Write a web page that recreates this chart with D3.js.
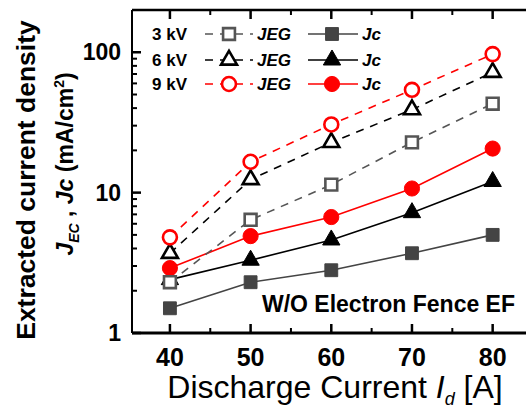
<!DOCTYPE html>
<html>
<head>
<meta charset="utf-8">
<script src="https://cdn.jsdelivr.net/npm/d3@7"></script>
<style>
  html, body { margin: 0; padding: 0; background: #fff; }
  svg { display: block; font-family: "Liberation Sans", Arial, sans-serif; }
</style>
</head>
<body>
<div id="chart"></div>
<script>
// Discharge current vs extracted current density (log scale)
const currents = [40, 50, 60, 70, 80];
const xTicks = [40, 50, 60, 70, 80];
const yTicks = [1, 10, 100];

const jeg3 = [2.3, 6.4, 11.4, 22.8, 43];
const jeg6 = [3.7, 12.4, 22.8, 39, 72];
const jeg9 = [4.8, 16.6, 30.6, 54, 97];
const jc3 = [1.5, 2.3, 2.8, 3.7, 5.0];
const jc6 = [2.4, 3.3, 4.6, 7.2, 12];
const jc9 = [2.9, 4.9, 6.7, 10.7, 20.6];

const series = [
  { name: '3 kV', values: jc3, kind: 'jc', color: '#444', shape: 'square' },
  { name: '6 kV', values: jc6, kind: 'jc', color: '#000', shape: 'triangle' },
  { name: '9 kV', values: jc9, kind: 'jc', color: '#f00', shape: 'circle' },
  { name: '3 kV', values: jeg3, kind: 'jeg', color: '#555', shape: 'square' },
  { name: '6 kV', values: jeg6, kind: 'jeg', color: '#000', shape: 'triangle' },
  { name: '9 kV', values: jeg9, kind: 'jeg', color: '#f00', shape: 'circle' }
];

const width = 526, height = 410;
const svg = d3.select('#chart').append('svg')
  .attr('width', width).attr('height', height);

const x = d3.scaleLinear().domain([35.3, 85]).range([132, 533]);
const y = d3.scaleLog().domain([1, 200]).range([333, 10]);

const symType = { square: d3.symbolSquare, triangle: d3.symbolTriangle, circle: d3.symbolCircle };
const symSize = { square: 165, triangle: 130, circle: 180 };

function marker(g, s, cx, cy) {
  const open = s.kind === 'jeg';
  g.append('path')
    .attr('d', d3.symbol().type(symType[s.shape]).size(open ? symSize[s.shape] * 0.85 : symSize[s.shape])())
    .attr('transform', `translate(${cx},${cy})`)
    .attr('fill', open ? '#fff' : s.color)
    .attr('stroke', s.color)
    .attr('stroke-width', open ? 2.6 : 1);
}

// lines
const line = d3.line().x((d, i) => x(currents[i])).y(d => y(d));
series.forEach(s => {
  svg.append('path')
    .datum(s.values)
    .attr('d', line)
    .attr('fill', 'none')
    .attr('stroke', s.color)
    .attr('stroke-width', 1.6)
    .attr('stroke-dasharray', s.kind === 'jeg' ? '8,7' : null);
});
// markers
series.forEach(s => {
  const g = svg.append('g');
  s.values.forEach((v, i) => marker(g, s, x(currents[i]), y(v)));
});

// axes frame
const x0 = x.range()[0], y0 = y.range()[0], yTop = y.range()[1];
svg.append('line').attr('x1', x0).attr('x2', width + 5).attr('y1', y0).attr('y2', y0)
  .attr('stroke', '#000').attr('stroke-width', 3);
svg.append('line').attr('x1', x0).attr('x2', width + 5).attr('y1', yTop).attr('y2', yTop)
  .attr('stroke', '#000').attr('stroke-width', 2.5);
svg.append('line').attr('x1', x0).attr('x2', x0).attr('y1', yTop).attr('y2', y0)
  .attr('stroke', '#000').attr('stroke-width', 2);

// x ticks (inward, top and bottom)
const xMinor = [45, 55, 65, 75];
xTicks.forEach(t => {
  svg.append('line').attr('x1', x(t)).attr('x2', x(t)).attr('y1', y0).attr('y2', y0 - 9)
    .attr('stroke', '#000').attr('stroke-width', 2.5);
  svg.append('line').attr('x1', x(t)).attr('x2', x(t)).attr('y1', yTop).attr('y2', yTop + 9)
    .attr('stroke', '#000').attr('stroke-width', 2.5);
  svg.append('text').attr('x', x(t)).attr('y', 366).attr('text-anchor', 'middle')
    .attr('font-size', 25).attr('font-weight', 'bold').text(t);
});
xMinor.forEach(t => {
  svg.append('line').attr('x1', x(t)).attr('x2', x(t)).attr('y1', y0).attr('y2', y0 - 5)
    .attr('stroke', '#000').attr('stroke-width', 2);
  svg.append('line').attr('x1', x(t)).attr('x2', x(t)).attr('y1', yTop).attr('y2', yTop + 5)
    .attr('stroke', '#000').attr('stroke-width', 2);
});

// y ticks (inward)
[1, 10, 100].forEach(dec => {
  for (let k = 2; k <= 9; k++) {
    const v = dec * k;
    if (v > 200) break;
    svg.append('line').attr('x1', x0).attr('x2', x0 + 5).attr('y1', y(v)).attr('y2', y(v))
      .attr('stroke', '#000').attr('stroke-width', 2);
  }
});
yTicks.forEach(t => {
  svg.append('line').attr('x1', x0).attr('x2', x0 + 9).attr('y1', y(t)).attr('y2', y(t))
    .attr('stroke', '#000').attr('stroke-width', 2.5);
  svg.append('text').attr('x', 121).attr('y', y(t) + 8).attr('text-anchor', 'end')
    .attr('font-size', 23).attr('font-weight', 'bold').text(t);
});

// axis titles
const xt = svg.append('text').attr('x', 335).attr('y', 398).attr('text-anchor', 'middle')
  .attr('font-size', 32);
xt.append('tspan').text('Discharge Current ');
xt.append('tspan').attr('font-style', 'italic').text('I');
xt.append('tspan').attr('font-style', 'italic').attr('font-size', 18).attr('dy', 7).text('d');
xt.append('tspan').attr('dy', -7).text(' [A]');

svg.append('text').attr('transform', 'translate(35,180) rotate(-90)').attr('text-anchor', 'middle')
  .attr('font-size', 26.5).attr('font-weight', 'bold').text('Extracted current density');
const yt2 = svg.append('text').attr('transform', 'translate(73,164) rotate(-90)').attr('text-anchor', 'middle')
  .attr('font-size', 23).attr('font-weight', 'bold');
yt2.append('tspan').attr('font-style', 'italic').text('J');
yt2.append('tspan').attr('font-style', 'italic').attr('font-size', 14).attr('dy', 6).text('EC');
yt2.append('tspan').attr('dy', -6).text(' ,  ');
yt2.append('tspan').attr('font-style', 'italic').text('Jc');
yt2.append('tspan').text('  (mA/cm');
yt2.append('tspan').attr('font-size', 14).attr('dy', -9).text('2');
yt2.append('tspan').attr('dy', 9).text(')');

// annotation
svg.append('text').attr('x', 515).attr('y', 312).attr('text-anchor', 'end')
  .attr('font-size', 23).attr('font-weight', 'bold').text('W/O Electron Fence EF');

// legend
const legendY = [34, 60, 84];
const legendSeries = [3, 4, 5];
legendSeries.forEach((si, r) => {
  const s = series[si], c = series[si - 3];
  const ly = legendY[r];
  const g = svg.append('g');
  g.append('text').attr('x', 152).attr('y', ly + 6).attr('font-size', 17).attr('font-weight', 'bold').text(s.name);
  g.append('line').attr('x1', 203).attr('x2', 253).attr('y1', ly).attr('y2', ly)
    .attr('stroke', s.color).attr('stroke-width', 1.6).attr('stroke-dasharray', '8,7').attr('stroke-dashoffset', -2);
  marker(g, s, 229, ly);
  g.append('text').attr('x', 257).attr('y', ly + 6).attr('font-size', 17).attr('font-weight', 'bold')
    .attr('font-style', 'italic').text('JEG');
  g.append('line').attr('x1', 308).attr('x2', 358).attr('y1', ly).attr('y2', ly)
    .attr('stroke', c.color).attr('stroke-width', 1.6);
  marker(g, c, 332, ly);
  g.append('text').attr('x', 362).attr('y', ly + 6).attr('font-size', 17).attr('font-weight', 'bold')
    .attr('font-style', 'italic').text('Jc');
});
</script>
</body>
</html>
